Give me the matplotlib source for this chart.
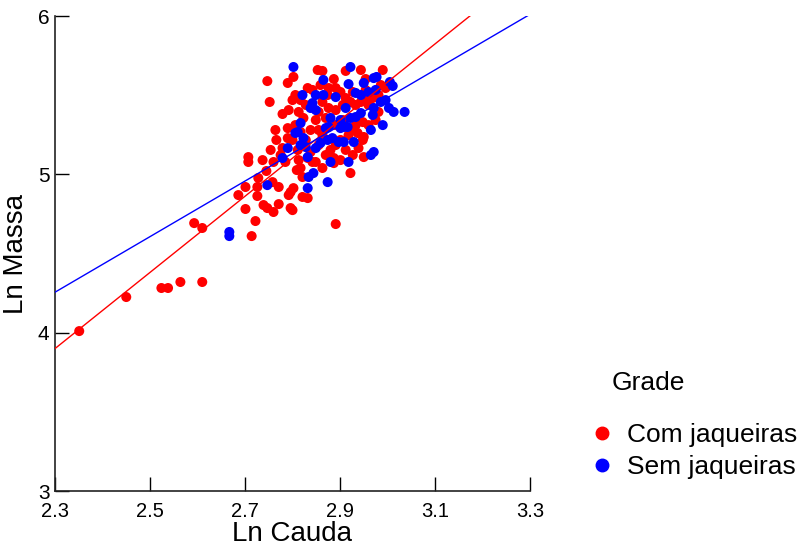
import numpy as np
import matplotlib
matplotlib.use("Agg")
import matplotlib.pyplot as plt
from matplotlib.lines import Line2D

plt.rcParams['font.family'] = ['Liberation Sans', 'DejaVu Sans']

# Com jaqueiras (red)
com_x = [2.351, 2.450, 2.524, 2.538, 2.564, 2.610, 2.593, 2.610, 2.891, 2.714,
         2.707, 2.707, 2.760, 2.775, 2.745, 2.728, 2.701, 2.686, 2.726, 2.726,
         2.758, 2.771, 2.701, 2.739, 2.747, 2.760, 2.771, 2.722, 2.796, 2.792,
         2.802, 2.747, 2.790, 2.802, 2.752, 2.779, 2.790, 2.790, 2.779, 2.950,
         2.922, 2.887, 2.863, 2.849, 2.832, 2.817, 2.821, 2.796, 2.821, 2.832,
         2.800, 2.887, 2.853, 2.863, 2.912, 2.944, 2.990, 2.832, 2.887, 2.954,
         2.806, 2.817, 2.828, 2.813, 2.823, 2.806, 2.817, 2.800, 2.811, 2.828,
         2.838, 2.849, 2.855, 2.842, 2.859, 2.876, 2.891, 2.901, 2.912, 2.922,
         2.933, 2.944, 2.954, 2.960, 2.927, 2.906, 2.891, 2.876, 2.863, 2.855,
         2.863, 2.880, 2.891, 2.901, 2.912, 2.927, 2.939, 2.948, 2.937, 2.950,
         2.960, 2.975, 2.981, 2.969, 2.948, 2.922, 2.906, 2.891, 2.870, 2.855,
         2.838, 2.842, 2.870, 2.901, 2.918, 2.933, 2.954, 2.986, 2.996, 2.981,
         2.813, 2.800, 2.792, 2.874, 2.764, 2.766, 2.754, 2.737, 2.785, 2.809]
com_y = [4.010, 4.225, 4.282, 4.282, 4.320, 4.320, 4.692, 4.661, 4.686, 4.610,
         5.109, 5.078, 5.078, 5.122, 5.021, 4.977, 4.920, 4.869, 4.920, 4.863,
         4.951, 4.920, 4.781, 4.806, 4.787, 4.762, 4.812, 4.705, 4.787, 4.869,
         4.913, 5.589, 5.577, 5.615, 5.457, 5.381, 5.292, 5.229, 5.166, 5.109,
         5.008, 5.103, 5.040, 5.078, 5.103, 5.040, 4.983, 4.888, 4.857, 4.850,
         4.774, 5.071, 5.659, 5.653, 5.653, 5.659, 5.659, 5.545, 5.602, 5.602,
         5.501, 5.469, 5.438, 5.394, 5.356, 5.311, 5.267, 5.217, 5.154, 5.217,
         5.280, 5.343, 5.394, 5.533, 5.564, 5.545, 5.545, 5.520, 5.482, 5.457,
         5.438, 5.457, 5.469, 5.438, 5.520, 5.438, 5.406, 5.419, 5.457, 5.280,
         5.248, 5.154, 5.185, 5.217, 5.154, 5.122, 5.166, 5.217, 5.261, 5.236,
         5.311, 5.343, 5.394, 5.482, 5.330, 5.280, 5.343, 5.311, 5.356, 5.185,
         5.141, 5.078, 5.122, 5.090, 5.248, 5.311, 5.533, 5.564, 5.545, 5.501,
         5.090, 5.469, 5.406, 5.501, 5.280, 5.217, 5.154, 5.090, 5.078, 5.027]

# Sem jaqueiras (blue)
sem_x = [2.667, 2.667, 2.747, 2.779, 2.790, 2.802, 2.806, 2.922, 2.971, 2.977,
         3.005, 3.011, 2.865, 2.918, 2.950, 2.933, 2.944, 2.960, 2.975, 2.891,
         2.865, 2.849, 2.821, 2.842, 2.838, 2.849, 2.912, 2.971, 2.969, 2.986,
         2.996, 3.003, 3.013, 2.944, 2.933, 2.922, 2.880, 2.876, 2.870, 2.901,
         2.908, 2.901, 2.916, 2.990, 2.965, 2.817, 2.884, 2.874, 2.859, 2.897,
         2.908, 2.929, 2.849, 2.828, 2.832, 2.965, 2.971, 2.918, 2.880, 2.844,
         2.834, 2.874, 2.832, 2.811, 2.823, 2.817, 3.036]
sem_y = [4.636, 4.610, 4.932, 5.103, 5.166, 5.678, 5.261, 5.678, 5.608, 5.615,
         5.583, 5.558, 5.596, 5.570, 5.577, 5.514, 5.501, 5.520, 5.533, 5.488,
         5.501, 5.501, 5.501, 5.450, 5.419, 5.406, 5.419, 5.419, 5.375, 5.457,
         5.469, 5.419, 5.394, 5.387, 5.362, 5.356, 5.356, 5.299, 5.292, 5.343,
         5.299, 5.292, 5.299, 5.311, 5.280, 5.324, 5.229, 5.217, 5.198, 5.204,
         5.204, 5.204, 5.166, 5.172, 5.109, 5.122, 5.141, 5.078, 5.078, 5.008,
         4.983, 4.951, 4.913, 5.267, 5.229, 5.185, 5.394]

# fitted lines: intercept, slope
com_fit = (-1.632, 2.405)
sem_fit = (0.219, 1.755)

x_ticks = [2.3, 2.5, 2.7, 2.9, 3.1, 3.3]
y_ticks = [3, 4, 5, 6]

red = '#FF0000'
blue = '#0000FF'

fig = plt.figure(figsize=(8.06, 5.57), dpi=100)
ax = fig.add_axes([55/806, 1 - 491/557, 475/806, 475/557])

ax.scatter(com_x, com_y, s=52, color=red, edgecolors='none', zorder=2)
ax.scatter(sem_x, sem_y, s=52, color=blue, edgecolors='none', zorder=3)

xx = np.array([2.3, 3.3])
ax.plot(xx, com_fit[0] + com_fit[1]*xx, color=red, lw=1.0, zorder=4)
ax.plot(xx, sem_fit[0] + sem_fit[1]*xx, color=blue, lw=1.0, zorder=4)

ax.set_xlim(2.3, 3.3)
ax.set_ylim(3, 6)
ax.set_xticks(x_ticks)
ax.set_xticklabels([str(t) for t in x_ticks])
ax.set_yticks(y_ticks)

for s in ['top', 'right']:
    ax.spines[s].set_visible(False)
for s in ['left', 'bottom']:
    ax.spines[s].set_linewidth(1.2)
    ax.spines[s].set_color('#222222')

ax.tick_params(axis='x', direction='in', length=10, width=1, labelsize=14.5, pad=8)
ax.tick_params(axis='y', direction='in', length=10, width=1, labelsize=15, pad=4)

ax.set_xlabel('Ln Cauda', fontsize=20, labelpad=0)
ax.set_ylabel('Ln Massa', fontsize=20, labelpad=6)

# legend
handles = [Line2D([], [], marker='o', ls='none', color=red, markersize=9, label='Com jaqueiras'),
           Line2D([], [], marker='o', ls='none', color=blue, markersize=9, label='Sem jaqueiras')]
fig.legend(handles=handles, loc='upper left', bbox_to_anchor=(588.8/806, 1 - 423/557),
           bbox_transform=fig.transFigure, frameon=False, fontsize=19,
           handlelength=1.0, handletextpad=0.45, borderpad=0, borderaxespad=0,
           labelspacing=0.32)
fig.text(612/806, 1 - 383/557, 'Grade', fontsize=19, va='center', ha='left')

fig.savefig('out.png', dpi=100)
